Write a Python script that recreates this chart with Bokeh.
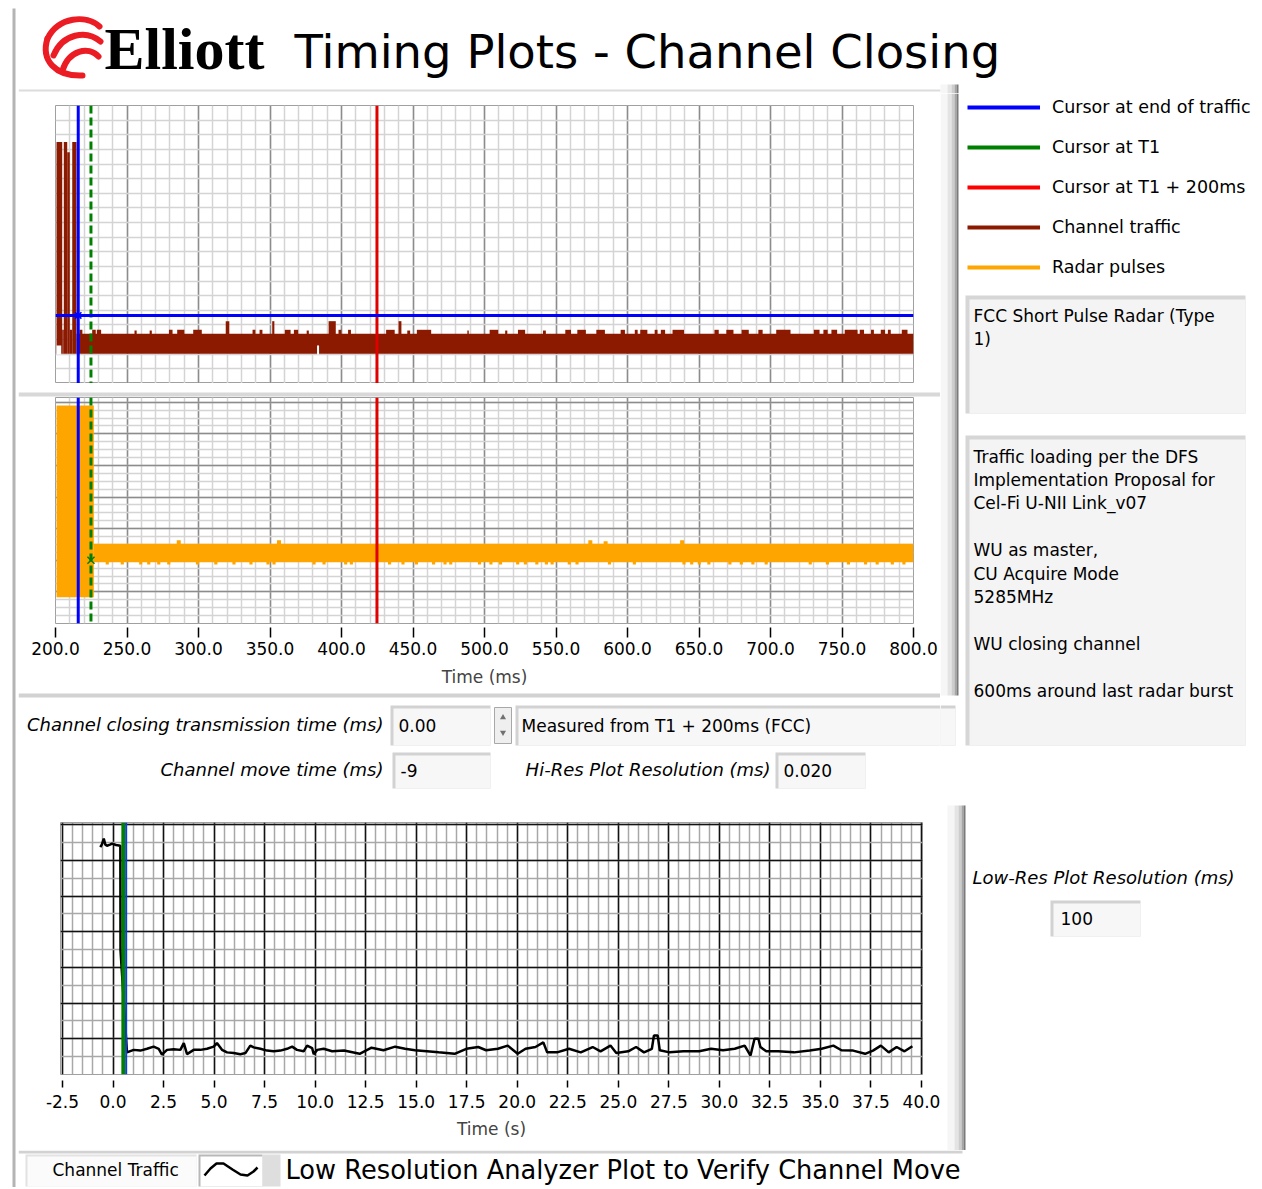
import numpy as np
from bokeh.plotting import figure
from bokeh.models import (Range1d, FixedTicker, PrintfTickFormatter, Span, Legend,
                          LegendItem, ColumnDataSource)
from bokeh.layouts import column, row
from bokeh.embed import file_html
from bokeh.resources import INLINE
from bokeh.core.properties import value

FONT = "DejaVu Sans"

# ---------------- texts ----------------
page_title = "Timing Plots - Channel Closing"
logo_text = "Elliott"
legend_labels = ["Cursor at end of traffic", "Cursor at T1", "Cursor at T1 + 200ms",
                 "Channel traffic", "Radar pulses"]
legend_colors = ["#0000ff", "#008000", "#ff0000", "#8b1a00", "#ffa500"]
note1_lines = ["FCC Short Pulse Radar (Type", "1)"]
note2_lines = ["Traffic loading per the DFS", "Implementation Proposal for",
               "Cel-Fi U-NII Link_v07", "", "WU as master,", "CU Acquire Mode",
               "5285MHz", "", "WU closing channel", "", "600ms around last radar burst"]
ctrl_labels = ["Channel closing transmission time (ms)", "Channel move time (ms)",
               "Hi-Res Plot Resolution (ms)"]
ctrl_values = ["0.00", "-9", "0.020"]
ctrl_note = "Measured from T1 + 200ms (FCC)"
lowres_label = "Low-Res Plot Resolution (ms)"
lowres_value = "100"
footer_legend = "Channel Traffic"
footer_title = "Low Resolution Analyzer Plot to Verify Channel Move"

# ---------------- hi-res plots (ms) ----------------
hires_ticks = [200, 250, 300, 350, 400, 450, 500, 550, 600, 650, 700, 750, 800]
hires_xlabel = "Time (ms)"
cursor_end_traffic = 215.9
cursor_t1 = 224.8
cursor_t1_200 = 424.8
cursor_traffic_level = 4.65

# channel traffic (upper plot)
traffic_start = [200.7, 204.7, 205.8, 208.2, 210.0, 211.7, 214.7]
traffic_end = [204.7, 205.8, 208.2, 210.0, 211.7, 214.7, 800.0]
traffic_top = [16.5, 3.67, 16.5, 15.8, 3.67, 16.5, 3.4]
traffic_floor = 2.03
traffic_notch_start = [200.7, 382.9]
traffic_notch_end = [204.0, 384.3]
traffic_notch_level = 2.6
traffic_bump_ms = [217.8, 226.9, 230.4, 256.0, 266.6, 280.6, 287.6, 299.3, 320.3, 338.8,
                   343.7, 352.3, 362.4, 368.2, 376.4, 393.5, 398.9, 405.6, 434.2, 440.9,
                   447.0, 457.7, 488.5, 506.6, 515.2, 525.9, 541.9, 558.5, 567.9, 581.2,
                   596.7, 606.1, 611.4, 620.0, 624.8, 635.5, 662.3, 671.6, 682.3, 693.0,
                   709.0, 732.3, 738.5, 744.6, 756.4, 763.9, 771.3, 778.6, 783.1, 793.8]
traffic_bump_width = [2, 2.5, 3, 1.5, 1.5, 2.5, 5, 6, 2.5, 2,
                      2, 1.5, 4, 3, 1.5, 5, 2, 2, 6, 2,
                      2, 10, 1, 6, 1.5, 5, 2, 4, 6, 6,
                      3, 2, 5, 2, 3, 8, 3, 5, 5, 3,
                      10, 4, 3, 4, 9, 3, 2, 3, 2, 4]
traffic_bump_top = [3.67, 3.67, 3.67, 3.62, 3.62, 3.67, 3.67, 3.67, 4.26, 3.67,
                    3.67, 4.26, 3.67, 3.67, 3.62, 4.26, 3.67, 3.67, 3.67, 4.26,
                    3.62, 3.67, 3.62, 3.67, 3.62, 3.67, 3.62, 3.67, 3.67, 3.67,
                    3.67, 3.67, 3.67, 3.67, 3.67, 3.67, 3.67, 3.67, 3.67, 3.67,
                    3.67, 3.67, 3.67, 3.67, 3.67, 3.67, 3.67, 3.67, 3.67, 3.67]

# radar pulses (middle plot)
radar_block_start, radar_block_end = 200.7, 226.8
radar_block_low, radar_block_high = 0.83, 6.9
radar_band_end = 800.0
radar_band_low, radar_band_high = 1.94, 2.52
radar_peak_ms = [286.2, 356.3, 574.0, 584.7, 638.2]
radar_peak_top = [2.63, 2.63, 2.63, 2.60, 2.63]
radar_dip_ms = [236.2, 246.7, 259.6, 265.2, 272.2, 279.2, 299.3, 312.1, 324.8, 336.7,
                348.6, 352.8, 380.8, 387.8, 402.9, 406.9, 433.6, 443.0, 452.4, 464.4,
                472.4, 476.4, 496.5, 504.5, 511.2, 523.2, 528.6, 536.6, 543.3, 547.3,
                559.3, 564.7, 587.4, 604.8, 639.5, 644.9, 650.2, 656.9, 671.6, 679.6,
                687.7, 697.0, 727.8, 739.8, 754.5, 766.5, 774.6, 785.2, 793.3]
radar_dip_level = 1.87
radar_marker_level = 2.0

# ---------------- low-res plot (s) ----------------
lowres_ticks = [-2.5, 0.0, 2.5, 5.0, 7.5, 10.0, 12.5, 15.0, 17.5, 20.0, 22.5, 25.0,
                27.5, 30.0, 32.5, 35.0, 37.5, 40.0]
lowres_xlabel = "Time (s)"
lowres_cursor_green = 0.51
lowres_cursor_blue = 0.65
lowres_t = [-0.63, -0.55, -0.46, -0.38, -0.30, -0.15, -0.05, 0.15, 0.36, 0.37,
            0.69, 1.02, 1.35, 1.68, 2.01, 2.26, 2.42, 2.67, 3.00, 3.33,
            3.50, 3.66, 3.99, 4.32, 4.65, 4.98, 5.14, 5.39, 5.64, 5.97,
            6.30, 6.55, 6.79, 6.96, 7.29, 7.62, 7.95, 8.28, 8.61, 8.86,
            9.10, 9.43, 9.60, 9.85, 9.93, 10.10, 10.42,
            10.84, 11.43, 12.20, 12.79, 13.38, 13.96, 14.45, 14.94, 15.53, 16.11,
            16.90, 17.48, 18.07, 18.46, 19.04, 19.53, 20.02, 20.41, 20.90, 21.29,
            21.48, 21.97, 22.56, 23.14, 23.73, 24.12, 24.61, 24.90, 25.49, 25.88,
            26.27, 26.66, 26.76, 26.95, 27.05, 27.54, 28.22, 29.00, 29.59, 30.18,
            30.76, 31.25, 31.54, 31.74, 31.93, 32.03, 32.32, 32.91, 33.69, 34.47,
            35.06, 35.64, 36.04, 36.62, 37.21, 37.60, 37.99, 38.38, 38.77, 39.16,
            39.55]
lowres_v = [6.37, 6.45, 6.61, 6.44, 6.41, 6.44, 6.47, 6.43, 6.41, 3.47,
            0.62, 0.69, 0.67, 0.72, 0.78, 0.72, 0.56, 0.69, 0.71, 0.69,
            0.88, 0.57, 0.69, 0.69, 0.72, 0.78, 0.88, 0.69, 0.62, 0.60,
            0.57, 0.60, 0.81, 0.76, 0.72, 0.67, 0.65, 0.67, 0.72, 0.78,
            0.69, 0.65, 0.81, 0.74, 0.57, 0.69, 0.72,
            0.65, 0.67, 0.58, 0.75, 0.68, 0.78, 0.72, 0.68, 0.65, 0.62,
            0.58, 0.72, 0.77, 0.68, 0.72, 0.81, 0.58, 0.72, 0.77, 0.90,
            0.62, 0.62, 0.72, 0.62, 0.77, 0.65, 0.81, 0.60, 0.65, 0.77,
            0.62, 0.72, 1.09, 1.09, 0.68, 0.62, 0.65, 0.65, 0.72, 0.68,
            0.72, 0.81, 0.53, 1.00, 1.00, 0.77, 0.65, 0.65, 0.62, 0.67,
            0.72, 0.81, 0.68, 0.67, 0.58, 0.67, 0.81, 0.62, 0.77, 0.65,
            0.79]

BLUE, GREEN, RED, BROWN, ORANGE = "#0000ff", "#008000", "#e00000", "#8b1a00", "#ffa500"


# ---------------- helpers ----------------
def common(**kw):
    return dict(output_backend="svg", toolbar_location=None, tools="", title=None, **kw)


def no_align(p):
    if "frame_align" in p.properties():
        p.frame_align = False
    return p


def deco_fig(x0, x1, y0, y1):
    p = figure(width=x1 - x0, height=y1 - y0, x_range=Range1d(x0, x1),
               y_range=Range1d(y1, y0), x_axis_location=None, y_axis_location=None,
               min_border=0, **common())
    p.grid.visible = False
    p.outline_line_color = None
    p.background_fill_color = "white"
    p.border_fill_color = "white"
    return no_align(p)


def bevel_box(p, x0, x1, y0, y1, edge="#d2d2d2", fill="#f7f7f7", t=3):
    p.quad(left=[x0], right=[x1], top=[y0], bottom=[y1], fill_color=edge, line_color=None)
    p.quad(left=[x0 + t], right=[x1], top=[y0 + t], bottom=[y1], fill_color=fill,
           line_color=None)


def bevel_bar(p, x0, y0, y1):
    strips = [(0, 7, "#f6f6f6"), (7, 11, "#e4e4e4"), (11, 14, "#cdcdcd"),
              (14, 16, "#a6a6a6"), (16, 18, "#7a7a7a")]
    for a, b, c in strips:
        p.quad(left=[x0 + a], right=[x0 + b], top=[y0], bottom=[y1], fill_color=c,
               line_color=None)


def txt(p, x, y, s, size="17px", style="normal", align="left", font=FONT):
    if isinstance(s, str):
        s, x, y = [s], [x], [y]
    p.text(x=x, y=y, text=s, text_font=value(font), text_font_size=size,
           text_font_style=style, text_align=align, text_baseline="middle",
           text_color="black")


def style_xaxis(ax, ticks, label, tin, tout, lab_standoff, axlab_standoff):
    ax.ticker = FixedTicker(ticks=ticks)
    ax.formatter = PrintfTickFormatter(format="%.1f")
    ax.axis_line_color = None
    ax.major_tick_in = tin
    ax.major_tick_out = tout
    ax.major_tick_line_color = "black"
    ax.major_tick_line_width = 1.5
    ax.minor_tick_line_color = None
    ax.major_label_text_font = FONT
    ax.major_label_text_font_size = "17px"
    ax.major_label_text_color = "black"
    ax.major_label_standoff = lab_standoff
    ax.axis_label = label
    ax.axis_label_text_font = FONT
    ax.axis_label_text_font_size = "17px"
    ax.axis_label_text_font_style = "normal"
    ax.axis_label_standoff = axlab_standoff


# ---------------- left bar ----------------
leftbar = deco_fig(0, 18, 0, 1187)
leftbar.quad(left=[12], right=[15], top=[8], bottom=[1187], fill_color="#b4b4b4",
             line_color=None)

# ---------------- title ----------------
tf = deco_fig(18, 1254, 0, 93)
tf.bezier(x0=[99, 100, 98, 47], y0=[26, 41, 56, 38], x1=[47, 53, 62, 82],
          y1=[38, 55, 70, 75], cx0=[86, 86, 88, 40], cy0=[14, 29, 45, 60],
          cx1=[58, 62, 68, 55], cy1=[16, 33, 50, 76], line_color="#ec1c24",
          line_width=6, line_cap="round")
txt(tf, 104, 48, logo_text, size="60px", style="bold", font="Liberation Serif")
txt(tf, 294, 51, page_title, size="46.5px")
tf.quad(left=[18], right=[940], top=[89], bottom=[91], fill_color="#dcdcdc",
        line_color=None)
bevel_bar(tf, 940, 84, 93)

# ---------------- hi-res plots ----------------
pt = figure(width=922, height=290, x_range=Range1d(200, 800), y_range=Range1d(0, 19),
            min_border_left=37, min_border_right=27, min_border_top=12,
            min_border_bottom=0, x_axis_location=None, y_axis_location=None, **common())
pm = figure(width=922, height=293, x_range=Range1d(200, 800), y_range=Range1d(0, 7.15),
            min_border_left=37, min_border_right=27, min_border_top=0,
            min_border_bottom=67, y_axis_location=None, **common())

for p in (pt, pm):
    no_align(p)
    p.background_fill_color = "white"
    p.border_fill_color = "white"
    p.outline_line_color = "#a0a0a0"
    p.xgrid.ticker = FixedTicker(ticks=hires_ticks,
                                 minor_ticks=list(np.arange(200, 801, 10)))
    p.xgrid.grid_line_color = "#8c8c8c"
    p.xgrid.grid_line_width = 1.5
    p.xgrid.minor_grid_line_color = "#d4d4d4"
    p.xgrid.minor_grid_line_width = 1.5

pt.ygrid.ticker = FixedTicker(ticks=list(range(0, 20)))
pt.ygrid.grid_line_color = "#d4d4d4"
pt.ygrid.grid_line_width = 1.5

pm.ygrid.ticker = FixedTicker(ticks=[1, 2, 3, 4, 5, 6, 7],
                              minor_ticks=list(np.arange(0, 7.2, 0.25)))
pm.ygrid.grid_line_color = "#8c8c8c"
pm.ygrid.grid_line_width = 1.5
pm.ygrid.minor_grid_line_color = "#d4d4d4"
pm.ygrid.minor_grid_line_width = 1.5

# traffic
pt.quad(left=traffic_start, right=traffic_end, bottom=traffic_floor, top=traffic_top,
        fill_color=BROWN, line_color=None)
bl = [c - w / 2 for c, w in zip(traffic_bump_ms, traffic_bump_width)]
br = [min(c + w / 2, 800) for c, w in zip(traffic_bump_ms, traffic_bump_width)]
pt.quad(left=bl, right=br, bottom=3.3, top=traffic_bump_top, fill_color=BROWN,
        line_color=None)
pt.quad(left=traffic_notch_start, right=traffic_notch_end, bottom=traffic_floor - 0.05,
        top=traffic_notch_level, fill_color="white", line_color=None)

# radar
pm.quad(left=[radar_block_start], right=[radar_block_end], bottom=[radar_block_low],
        top=[radar_block_high], fill_color=ORANGE, line_color=None)
pm.quad(left=[radar_block_end], right=[radar_band_end], bottom=[radar_band_low],
        top=[radar_band_high], fill_color=ORANGE, line_color=None)
pm.quad(left=[m - 1.4 for m in radar_peak_ms], right=[m + 1.4 for m in radar_peak_ms],
        bottom=radar_band_high - 0.05, top=radar_peak_top, fill_color=ORANGE,
        line_color=None)
pm.quad(left=[m - 1.1 for m in radar_dip_ms],
        right=[min(m + 1.1, 800) for m in radar_dip_ms],
        bottom=radar_dip_level, top=radar_band_low + 0.05, fill_color=ORANGE,
        line_color=None)

for p in (pt, pm):
    p.add_layout(Span(location=cursor_end_traffic, dimension="height", line_color=BLUE,
                      line_width=3))
    p.add_layout(Span(location=cursor_t1, dimension="height", line_color=GREEN,
                      line_width=3, line_dash="8 4"))
    p.add_layout(Span(location=cursor_t1_200, dimension="height", line_color=RED,
                      line_width=3))
pt.add_layout(Span(location=cursor_traffic_level, dimension="width", line_color=BLUE,
                   line_width=3))
pt.scatter([cursor_end_traffic], [cursor_traffic_level], marker="x", size=9,
           line_color=BLUE, line_width=1.5)
pm.scatter([cursor_t1], [radar_marker_level], marker="x", size=10, line_color=GREEN,
           line_width=1.5)

style_xaxis(pm.xaxis[0], hires_ticks, hires_xlabel, -4, 14, 4, 9)

# separator between the two hi-res plots
sep = deco_fig(18, 940, 383, 397)
sep.quad(left=[18], right=[940], top=[392], bottom=[396], fill_color="#d8d8d8",
         line_color=None)

# ---------------- control strip ----------------
ctrl = deco_fig(18, 940, 690, 800)
ctrl.quad(left=[18], right=[940], top=[693], bottom=[697], fill_color="#d2d2d2",
          line_color=None)
txt(ctrl, [383, 383, 770], [724, 769, 769], ctrl_labels, size="18px", style="italic",
    align="right")
bevel_box(ctrl, 390, 490, 705, 745)
bevel_box(ctrl, 515, 940, 705, 745)
bevel_box(ctrl, 392, 490, 752, 788)
bevel_box(ctrl, 775, 865, 752, 788)
ctrl.quad(left=[494], right=[511], top=[707], bottom=[743], fill_color="#efefef",
          line_color="#a8a8a8", line_width=1)
ctrl.scatter([502.5, 502.5], [717, 732], marker=["triangle", "inverted_triangle"],
             size=6, fill_color="#707070", line_color=None)
txt(ctrl, [398, 400, 783], [725, 770, 770], ctrl_values)
txt(ctrl, 521, 725, ctrl_note)

# ---------------- right panel ----------------
rf = deco_fig(940, 1254, 93, 800)
bevel_bar(rf, 940, 93, 695)
rf.quad(left=[940], right=[955], top=[705], bottom=[745], fill_color="#d2d2d2",
        line_color=None)
rf.quad(left=[940], right=[955], top=[708], bottom=[745], fill_color="#f7f7f7",
        line_color=None)
items = []
for lab, col in zip(legend_labels, legend_colors):
    # legend swatches: renderers whose data lies outside the visible panel
    r = rf.line(x="x", y="y", source=ColumnDataSource(dict(x=[0, 1], y=[0, 0])),
                line_color=col, line_width=4)
    items.append(LegendItem(label=lab, renderers=[r]))
leg = Legend(items=items, location=(27, 523), orientation="vertical", glyph_width=73,
             glyph_height=20, label_height=20, spacing=20, label_standoff=12, padding=0,
             margin=0, border_line_color=None, background_fill_alpha=0,
             label_text_font=FONT, label_text_font_size="17.5px",
             label_text_color="black")
rf.add_layout(leg)
bevel_box(rf, 965, 1245, 295, 413, edge="#d6d6d6", fill="#f4f4f4", t=4)
bevel_box(rf, 965, 1245, 435, 745, edge="#d6d6d6", fill="#f4f4f4", t=4)
txt(rf, [973] * len(note1_lines), [315 + 23.4 * i for i in range(len(note1_lines))],
    note1_lines)
txt(rf, [973] * len(note2_lines), [456 + 23.4 * i for i in range(len(note2_lines))],
    note2_lines)

# ---------------- low-res plot ----------------
pb = figure(width=927, height=350, x_range=Range1d(-2.6, 40.05), y_range=Range1d(0, 7.06),
            min_border_left=42, min_border_right=23, min_border_top=22,
            min_border_bottom=76, y_axis_location=None, **common())
no_align(pb)
pb.background_fill_color = "white"
pb.border_fill_color = "white"
pb.outline_line_color = "#a0a0a0"
pb.xgrid.ticker = FixedTicker(ticks=lowres_ticks,
                              minor_ticks=list(np.arange(-2.5, 40.01, 0.5)))
pb.xgrid.grid_line_color = "#111111"
pb.xgrid.grid_line_width = 1.5
pb.xgrid.minor_grid_line_color = "#a8a8a8"
pb.xgrid.minor_grid_line_width = 1.5
pb.ygrid.ticker = FixedTicker(ticks=[1, 2, 3, 4, 5, 6, 7],
                              minor_ticks=list(np.arange(0, 7.1, 0.5)))
pb.ygrid.grid_line_color = "#111111"
pb.ygrid.grid_line_width = 1.5
pb.ygrid.minor_grid_line_color = "#a8a8a8"
pb.ygrid.minor_grid_line_width = 1.5
pb.line(lowres_t, lowres_v, line_color="black", line_width=2.5)
pb.add_layout(Span(location=lowres_cursor_green, dimension="height", line_color=GREEN,
                   line_width=4))
pb.add_layout(Span(location=lowres_cursor_blue, dimension="height", line_color="#1040d0",
                   line_width=2))
style_xaxis(pb.xaxis[0], lowres_ticks, lowres_xlabel, -6, 13, 7, 8)

rf2 = deco_fig(945, 1254, 800, 1150)
bevel_bar(rf2, 947, 805, 1150)
txt(rf2, 972, 877, lowres_label, size="18px", style="italic")
bevel_box(rf2, 1050, 1140, 900, 936)
txt(rf2, 1060, 918, lowres_value)

# ---------------- footer ----------------
ft = deco_fig(18, 1254, 1150, 1187)
ft.quad(left=[18], right=[962], top=[1150], bottom=[1153], fill_color="#d2d2d2",
        line_color=None)
bevel_box(ft, 25, 196, 1154, 1186, edge="#e2e2e2", fill="#fbfbfb", t=2)
txt(ft, 52, 1169, footer_legend)
bevel_box(ft, 198, 262, 1154, 1186, edge="#b8b8b8", fill="#ffffff", t=2)
ft.quad(left=[262], right=[280], top=[1154], bottom=[1186], fill_color="#dedede",
        line_color=None)
ft.line(x=[204, 210, 216, 223, 232, 240, 247, 253, 257],
        y=[1175, 1168, 1163, 1163, 1169, 1174, 1175, 1171, 1167], line_color="black",
        line_width=2.5)
txt(ft, 285, 1169, footer_title, size="25.7px")

# ---------------- layout ----------------
left_col = column(pt, sep, pm, ctrl)
mid_row = row(left_col, rf)
bottom_row = row(pb, rf2)
main = column(tf, mid_row, bottom_row, ft)
page = row(leftbar, main)

open("out.html", "w").write(file_html(page, INLINE))
